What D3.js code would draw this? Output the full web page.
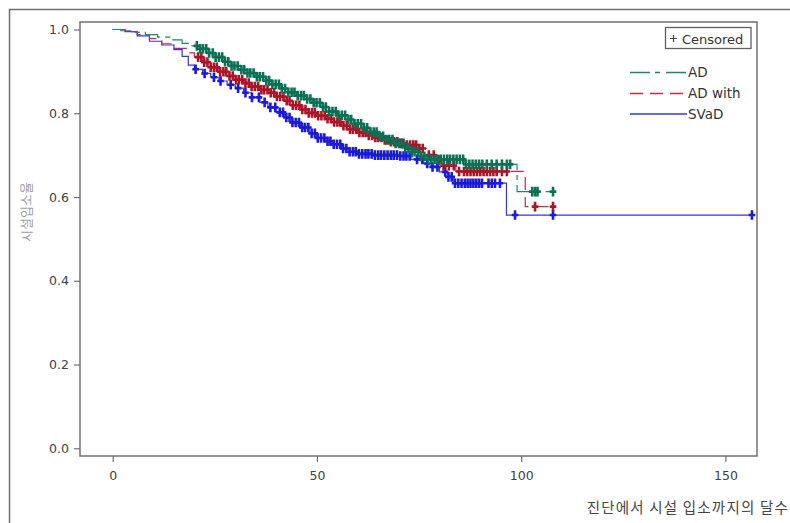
<!DOCTYPE html>
<html>
<head>
<meta charset="utf-8">
<script src="https://cdn.jsdelivr.net/npm/d3@7"></script>
<style>
  html,body{margin:0;padding:0;background:#fff;}
  svg{display:block;}
</style>
</head>
<body>
<svg id="chart" width="790" height="523"></svg>
<script>
// ---------------- DATA ----------------
const seriesNames = ["AD", "AD with", "SVaD"];
const xTicks = [0, 50, 100, 150];
const yTicks = [0.0, 0.2, 0.4, 0.6, 0.8, 1.0];
const xTitle = "진단에서 시설 입소까지의 달수";
const yTitle = "시설입소율";
const censoredLabel = "Censored";

// AD (step times, survival after step, censored times)
const adTime = [0, 2, 5, 8, 11, 14, 17, 19, 21, 23, 25, 27, 29, 31, 33, 35, 37, 39, 41, 43, 45, 47, 49, 51, 53, 55, 57, 59, 61, 63, 65, 67, 69, 71, 73, 75, 77, 86, 99];
const adSurv = [1.0, 0.997, 0.993, 0.988, 0.982, 0.975, 0.967, 0.961, 0.954, 0.944, 0.934, 0.923, 0.913, 0.904, 0.896, 0.887, 0.878, 0.869, 0.859, 0.850, 0.842, 0.834, 0.825, 0.815, 0.804, 0.795, 0.785, 0.775, 0.765, 0.755, 0.745, 0.737, 0.728, 0.719, 0.708, 0.697, 0.690, 0.678, 0.613];
const adCens = [20.6, 21.4, 22.1, 22.9, 23.6, 24.5, 25.2, 26.0, 26.8, 27.5, 28.3, 29.1, 29.8, 30.6, 31.5, 32.2, 33.0, 33.7, 34.5, 35.3, 36.0, 36.8, 37.6, 38.3, 39.1, 39.9, 40.7, 41.4, 42.2, 43.0, 43.8, 44.5, 45.3, 46.1, 46.8, 47.6, 48.4, 49.2, 49.9, 50.7, 51.5, 52.2, 53.0, 53.8, 54.6, 55.3, 56.1, 56.9, 57.7, 58.4, 59.2, 60.0, 60.8, 61.5, 62.3, 63.1, 63.9, 64.6, 65.4, 66.2, 67.0, 67.7, 68.5, 69.3, 70.1, 70.8, 71.6, 72.4, 73.2, 73.9, 74.7, 75.5, 76.3, 77.2, 78.0, 78.8, 79.5, 80.3, 81.1, 81.9, 82.6, 83.4, 84.2, 85.0, 85.8, 86.5, 87.3, 88.1, 88.9, 89.7, 90.5, 91.6, 92.8, 94.0, 95.3, 96.5, 97.3, 102.7, 103.4, 104.0, 107.8];

// AD with
const adwTime = [0, 3, 6, 9, 12, 15, 18, 20, 22, 24, 26, 28, 30, 32, 34, 36, 38, 40, 42, 44, 46, 48, 50, 52, 54, 56, 58, 60, 62, 64, 66, 68, 70, 72, 75, 77, 79, 81, 84, 101];
const adwSurv = [1.0, 0.995, 0.988, 0.978, 0.966, 0.955, 0.944, 0.934, 0.922, 0.910, 0.899, 0.889, 0.880, 0.872, 0.864, 0.856, 0.849, 0.840, 0.830, 0.819, 0.809, 0.801, 0.794, 0.787, 0.779, 0.770, 0.762, 0.754, 0.747, 0.742, 0.736, 0.732, 0.728, 0.724, 0.716, 0.700, 0.688, 0.675, 0.661, 0.577];
const adwCens = [20.9, 21.7, 22.4, 23.2, 24.0, 24.8, 25.5, 26.3, 27.1, 27.8, 28.6, 29.4, 30.2, 30.9, 31.7, 32.5, 33.3, 34.0, 34.8, 35.6, 36.4, 37.1, 37.9, 38.7, 39.5, 40.2, 41.0, 41.8, 42.6, 43.3, 44.1, 44.9, 45.7, 46.4, 47.2, 48.0, 48.8, 49.5, 50.3, 51.1, 51.9, 52.6, 53.4, 54.2, 55.0, 55.7, 56.5, 57.3, 58.1, 58.8, 59.6, 60.4, 61.2, 61.9, 62.7, 63.5, 64.3, 65.0, 65.8, 66.6, 67.4, 68.1, 68.9, 69.7, 70.5, 71.2, 72.0, 72.8, 73.6, 74.3, 75.1, 75.9, 77.4, 78.6, 79.8, 81.0, 82.3, 83.5, 84.8, 86.0, 86.8, 87.6, 88.4, 89.2, 90.0, 90.8, 91.6, 92.4, 93.2, 94.0, 95.3, 96.5, 103.4, 107.8];

// SVaD
const svTime = [0, 3, 6, 9, 12, 15, 17, 18.5, 20, 22, 24, 26, 28, 30, 32, 34, 36, 38, 40, 42, 44, 46, 48, 50, 52, 54, 56, 58, 60, 64, 70, 73, 76, 78, 80, 81.5, 83.5, 96.4];
const svSurv = [1.0, 0.995, 0.985, 0.972, 0.963, 0.952, 0.936, 0.915, 0.905, 0.895, 0.886, 0.877, 0.868, 0.860, 0.849, 0.838, 0.826, 0.814, 0.802, 0.790, 0.778, 0.766, 0.752, 0.741, 0.733, 0.726, 0.716, 0.708, 0.703, 0.700, 0.698, 0.690, 0.680, 0.672, 0.660, 0.648, 0.633, 0.557];
const svCens = [20.3, 22.5, 24.8, 26.4, 28.9, 30.7, 32.5, 34.1, 35.8, 37.2, 38.6, 39.8, 40.9, 41.7, 42.5, 43.3, 44.0, 44.8, 45.6, 46.4, 47.1, 47.9, 48.7, 49.5, 50.2, 51.0, 51.8, 52.6, 53.3, 54.1, 54.9, 55.7, 56.4, 57.2, 58.0, 58.8, 59.5, 60.3, 61.1, 61.9, 62.6, 63.4, 64.2, 65.0, 65.7, 66.5, 67.3, 68.1, 68.8, 69.6, 70.4, 71.2, 71.9, 72.7, 74.5, 75.8, 77.0, 78.3, 79.5, 81.4, 82.2, 83.0, 83.8, 84.6, 85.4, 86.2, 86.9, 87.6, 88.3, 89.0, 89.7, 90.4, 92.0, 92.8, 93.6, 94.8, 98.5, 107.8, 156.5];

// ---------------- DRAW ----------------
const svg = d3.select("#chart");
const W = 790, H = 523;
const plot = {left: 80, top: 22, right: 757, bottom: 456};

const x = d3.scaleLinear().domain([0, 150]).range([112.7, 725.4]);
const y = d3.scaleLinear().domain([0, 1]).range([448.3, 29.5]);

const frameColor = "#707070";
const textColor = "#404040";

svg.append("rect").attr("width", W).attr("height", H).attr("fill", "#fff");

// outer frame (top & left visible)
svg.append("path")
  .attr("d", `M9.5,${H} V9.5 H${W}`)
  .attr("fill", "none").attr("stroke", frameColor).attr("stroke-width", 1.5);

// axes
const yAxis = d3.axisLeft(y).tickValues(yTicks).tickFormat(d3.format(".1f")).tickSize(6).tickPadding(5);
const gy = svg.append("g").attr("transform", `translate(${plot.left},0)`).call(yAxis);
gy.select(".domain").remove();
gy.selectAll(".tick line").attr("stroke", frameColor).attr("stroke-width", 1.2);
gy.selectAll(".tick text").attr("fill", textColor).attr("font-family", "DejaVu Sans, sans-serif").attr("font-size", 12.5);

const xAxis = d3.axisBottom(x).tickValues(xTicks).tickFormat(d3.format("d")).tickSize(6).tickPadding(9);
const gx = svg.append("g").attr("transform", `translate(0,${plot.bottom})`).call(xAxis);
gx.select(".domain").remove();
gx.selectAll(".tick line").attr("stroke", frameColor).attr("stroke-width", 1.2);
gx.selectAll(".tick text").attr("fill", textColor).attr("font-family", "DejaVu Sans, sans-serif").attr("font-size", 12.5);

// titles
svg.append("text")
  .attr("x", 789).attr("y", 513)
  .attr("text-anchor", "end")
  .attr("font-family", "Noto Sans CJK KR, sans-serif")
  .attr("font-size", 14.5)
  .attr("letter-spacing", 1.2)
  .attr("fill", "#444")
  .text(xTitle);

svg.append("text")
  .attr("transform", "translate(31,212) rotate(-90)")
  .attr("text-anchor", "middle")
  .attr("font-family", "Noto Sans CJK KR, sans-serif")
  .attr("font-size", 13)
  .attr("fill", "#a0a0a0")
  .text(yTitle);

// clip
svg.append("clipPath").attr("id", "clip")
  .append("rect").attr("x", plot.left).attr("y", plot.top)
  .attr("width", plot.right - plot.left).attr("height", plot.bottom - plot.top);

const series = [
  {name: seriesNames[2], time: svTime, surv: svSurv, cens: svCens, line: "#3434e6", mark: "#1a1ad8", dash: null},
  {name: seriesNames[1], time: adwTime, surv: adwSurv, cens: adwCens, line: "#c02c45", mark: "#ac1428", dash: "13,7"},
  {name: seriesNames[0], time: adTime, surv: adSurv, cens: adCens, line: "#1f8468", mark: "#0b7155", dash: "20,5,5,5"}
];

const g = svg.append("g").attr("clip-path", "url(#clip)");
const line = d3.line().x(d => x(d[0])).y(d => y(d[1])).curve(d3.curveStepAfter);

function survAt(s, t) {
  const i = d3.bisectRight(s.time, t) - 1;
  return s.surv[Math.max(0, i)];
}

series.forEach(s => {
  const pts = s.time.map((t, i) => [t, s.surv[i]]);
  const tEnd = d3.max(s.cens);
  pts.push([tEnd, s.surv[s.surv.length - 1]]);
  g.append("path").datum(pts)
    .attr("d", line)
    .attr("fill", "none")
    .attr("stroke", s.line)
    .attr("stroke-width", 1.2)
    .attr("stroke-dasharray", s.dash);
  const marks = g.append("g");
  marks.selectAll("path").data(s.cens).join("path")
    .attr("d", t => {
      const cx = x(t), cy = y(survAt(s, t));
      return `M${cx - 3.3},${cy} H${cx + 3.3} M${cx},${cy - 4.8} V${cy + 4.8}`;
    })
    .attr("fill", "none")
    .attr("stroke", s.mark)
    .attr("stroke-width", 2.6);
});

// plot frame
svg.append("rect")
  .attr("x", plot.left).attr("y", plot.top)
  .attr("width", plot.right - plot.left).attr("height", plot.bottom - plot.top)
  .attr("fill", "none").attr("stroke", frameColor).attr("stroke-width", 1.5);

// legend: censored box
const cb = svg.append("g");
cb.append("rect").attr("x", 665.5).attr("y", 27.5).attr("width", 85.5).attr("height", 21)
  .attr("fill", "#fff").attr("stroke", "#606060").attr("stroke-width", 1.3);
cb.append("path").attr("d", "M670,38.5 H677 M673.5,35 V42")
  .attr("stroke", "#444").attr("stroke-width", 1.2);
cb.append("text").attr("x", 682).attr("y", 43.5)
  .attr("font-family", "DejaVu Sans, sans-serif").attr("font-size", 13)
  .attr("fill", "#333").text(censoredLabel);

// legend: series
const legendItems = [
  {name: seriesNames[0], color: "#1f8468", dash: "20,5,5,6", y: 72.5},
  {name: seriesNames[1], color: "#c02c45", dash: "13,7", y: 93.5},
  {name: seriesNames[2], color: "#3434e6", dash: null, y: 114}
];
const lg = svg.append("g");
legendItems.forEach(it => {
  lg.append("line").attr("x1", 630).attr("x2", 687).attr("y1", it.y).attr("y2", it.y)
    .attr("stroke", it.color).attr("stroke-width", 1.3).attr("stroke-dasharray", it.dash);
  lg.append("text").attr("x", 688).attr("y", it.y + 4.5)
    .attr("font-family", "DejaVu Sans, sans-serif").attr("font-size", 13.5)
    .attr("fill", "#333").text(it.name);
});
</script>
</body>
</html>
